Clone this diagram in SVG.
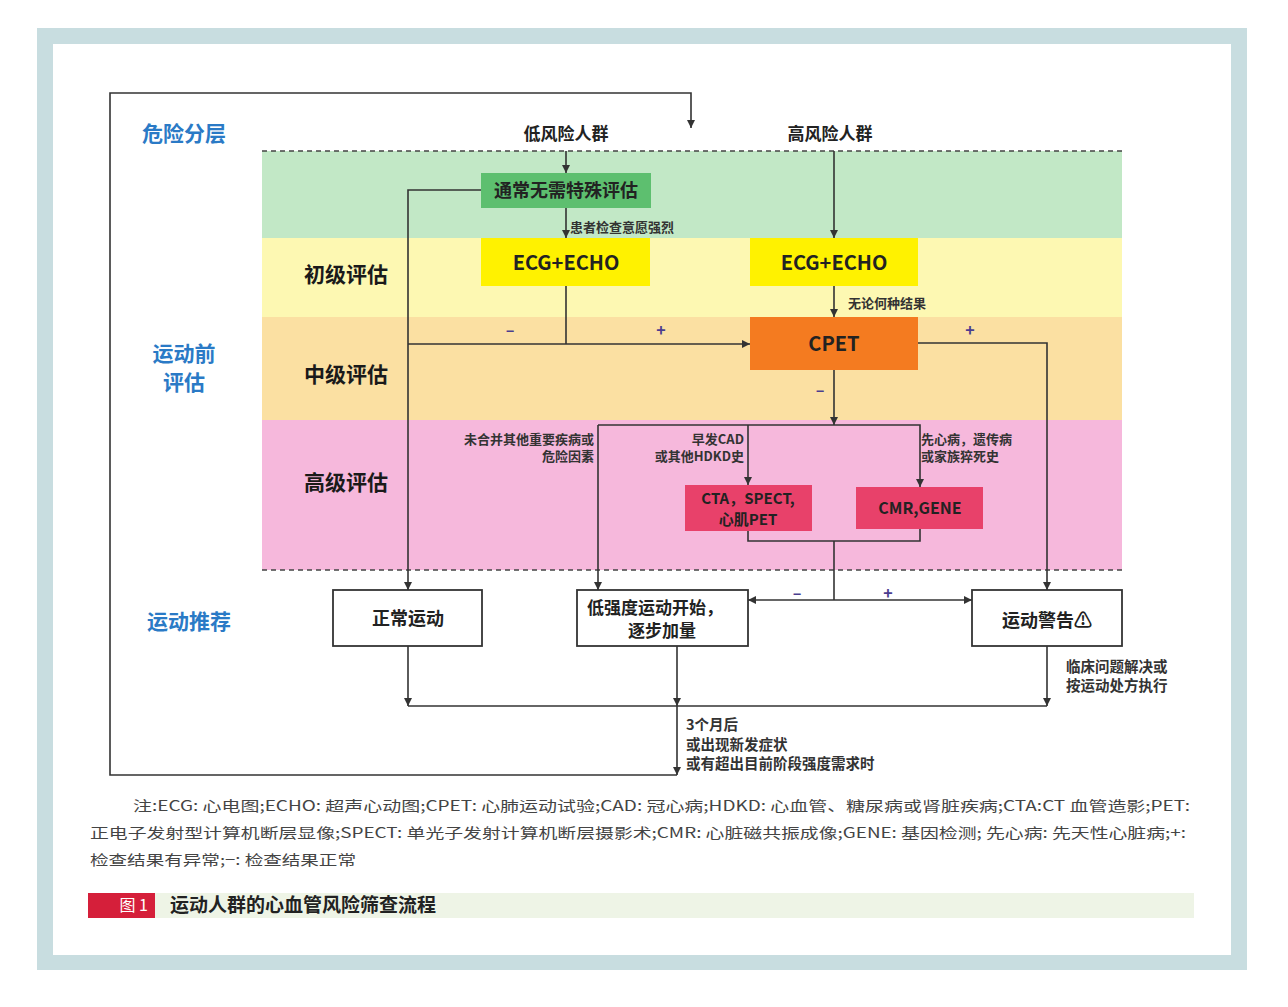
<svg xmlns="http://www.w3.org/2000/svg" width="1288" height="1007" viewBox="0 0 1288 1007">
<defs>
<style>
.band-title{font-family:"Noto Sans CJK SC",sans-serif;font-weight:bold;font-size:21px;fill:#2a7ac6;}
.lvl{font-family:"Noto Sans CJK SC",sans-serif;font-weight:bold;font-size:21px;fill:#1a1a1a;}
.pop{font-family:"Noto Sans CJK SC",sans-serif;font-weight:bold;font-size:17px;fill:#222;}
.node{font-family:"Noto Sans CJK SC",sans-serif;font-weight:bold;font-size:17px;fill:#222;}
.small{font-family:"Noto Sans CJK SC",sans-serif;font-weight:bold;font-size:13px;fill:#333;}
.mid{font-family:"Noto Sans CJK SC",sans-serif;font-weight:bold;font-size:14.5px;fill:#333;}
.sign{font-family:"Noto Sans CJK SC",sans-serif;font-weight:bold;font-size:16px;fill:#4b3d8f;}
.note{font-family:"Noto Sans CJK SC",sans-serif;font-size:14px;fill:#444;}
.line{fill:none;stroke:#333;stroke-width:1.6;}
.arr{fill:none;stroke:#333;stroke-width:1.6;marker-end:url(#ah);}
.dash{fill:none;stroke:#444;stroke-width:1.5;stroke-dasharray:5,4;}
.wbox{fill:#fff;stroke:#333;stroke-width:1.8;}
</style>
<marker id="ah" viewBox="0 0 10 10" refX="10" refY="5" markerUnits="userSpaceOnUse" markerWidth="8" markerHeight="10" orient="auto">
<path d="M0,0 L10,5 L0,10 z" fill="#333"/>
</marker>
</defs>

<!-- frame -->
<rect x="0" y="0" width="1288" height="1007" fill="#fff"/>
<rect x="37" y="28" width="1210" height="942" fill="#c8dde0"/>
<rect x="53" y="44" width="1178" height="911" fill="#fff"/>

<!-- bands -->
<g id="bands">
<rect x="262" y="151" width="860" height="87" fill="#c2e8c6"/>
<rect x="262" y="238" width="860" height="79" fill="#fdf8b2"/>
<rect x="262" y="317" width="860" height="103" fill="#fbe0a2"/>
<rect x="262" y="420" width="860" height="150" fill="#f6b8dc"/>
<line class="dash" x1="262" y1="151" x2="1122" y2="151"/>
<line class="dash" x1="262" y1="570" x2="1125" y2="570"/>
</g>

<!-- section labels -->
<g id="labels">
<text class="band-title" x="184" y="141" text-anchor="middle">危险分层</text>
<text class="band-title" x="184" y="361" text-anchor="middle">运动前</text>
<text class="band-title" x="184" y="390" text-anchor="middle">评估</text>
<text class="band-title" x="189" y="629" text-anchor="middle">运动推荐</text>
<text class="lvl" x="346" y="282" text-anchor="middle">初级评估</text>
<text class="lvl" x="346" y="382" text-anchor="middle">中级评估</text>
<text class="lvl" x="346" y="490" text-anchor="middle">高级评估</text>
<text class="pop" x="566" y="140" text-anchor="middle">低风险人群</text>
<text class="pop" x="830" y="140" text-anchor="middle">高风险人群</text>
</g>

<!-- connectors -->
<g id="connectors">
<path class="arr" d="M677,706 V775"/>
<path class="arr" d="M677,775 H110 V93 H691 V128"/>
<path class="arr" d="M566,151 V173"/>
<path class="arr" d="M566,208 V238"/>
<path class="arr" d="M834,151 V238"/>
<path class="arr" d="M834,286 V317"/>
<path class="line" d="M566,286 V344"/>
<path class="arr" d="M408,344 H750"/>
<path class="arr" d="M481,190 H408 V590"/>
<path class="arr" d="M918,343 H1047 V590"/>
<path class="arr" d="M834,370 V425"/>
<path class="arr" d="M598,425 V590"/>
<path class="arr" d="M748,425 V485"/>
<path class="arr" d="M598,425 H920 V487"/>
<path class="line" d="M748,531 V541 H920 V529"/>
<path class="line" d="M834,541 V600"/>
<path class="arr" d="M834,600 H748"/>
<path class="arr" d="M834,600 H972"/>
<path class="arr" d="M408,646 V706"/>
<path class="arr" d="M677,646 V706"/>
<path class="arr" d="M1047,646 V706"/>
<path class="line" d="M408,706 H1047"/>
<text class="small" x="570" y="232">患者检查意愿强烈</text>
<text class="small" x="848" y="308">无论何种结果</text>
<text class="sign" x="510" y="336" text-anchor="middle">–</text>
<text class="sign" x="661" y="336" text-anchor="middle">+</text>
<text class="sign" x="970" y="336" text-anchor="middle">+</text>
<text class="sign" x="820" y="396" text-anchor="middle">–</text>
<text class="small" x="594" y="444" text-anchor="end">未合并其他重要疾病或</text>
<text class="small" x="594" y="461" text-anchor="end">危险因素</text>
<text class="small" x="744" y="444" text-anchor="end">早发CAD</text>
<text class="small" x="744" y="461" text-anchor="end">或其他HDKD史</text>
<text class="small" x="921" y="444">先心病，遗传病</text>
<text class="small" x="921" y="461">或家族猝死史</text>
<text class="sign" x="797" y="599" text-anchor="middle">–</text>
<text class="sign" x="888" y="599" text-anchor="middle">+</text>
<text class="mid" x="1066" y="672">临床问题解决或</text>
<text class="mid" x="1066" y="691">按运动处方执行</text>
<text class="mid" x="686" y="730">3个月后</text>
<text class="mid" x="686" y="750">或出现新发症状</text>
<text class="mid" x="686" y="769">或有超出目前阶段强度需求时</text>
</g>

<!-- nodes -->
<g id="n-usual">
<rect x="481" y="173" width="170" height="35" fill="#5dbf6f"/>
<text class="node" x="566" y="197" text-anchor="middle" style="font-size:18px">通常无需特殊评估</text>
</g>
<g id="n-ecg-low">
<rect x="481" y="238" width="169" height="48" fill="#fff200"/>
<text class="node" x="566" y="270" text-anchor="middle" style="font-size:20px">ECG+ECHO</text>
</g>
<g id="n-ecg-high">
<rect x="750" y="238" width="168" height="48" fill="#fff200"/>
<text class="node" x="834" y="270" text-anchor="middle" style="font-size:20px">ECG+ECHO</text>
</g>
<g id="n-cpet">
<rect x="750" y="317" width="168" height="53" fill="#f47b20"/>
<text class="node" x="834" y="351" text-anchor="middle" style="font-size:20px">CPET</text>
</g>
<g id="n-cta">
<rect x="685" y="485" width="127" height="46" fill="#e8416a"/>
<text class="node" x="748" y="504" text-anchor="middle" style="font-size:15px">CTA，SPECT,</text>
<text class="node" x="748" y="525" text-anchor="middle" style="font-size:15px">心肌PET</text>
</g>
<g id="n-cmr">
<rect x="856" y="487" width="127" height="42" fill="#e8416a"/>
<text class="node" x="920" y="514" text-anchor="middle" style="font-size:16px">CMR,GENE</text>
</g>
<g id="n-normal">
<rect class="wbox" x="333" y="590" width="149" height="56"/>
<text class="node" x="408" y="625" text-anchor="middle" style="font-size:18px">正常运动</text>
</g>
<g id="n-low">
<rect class="wbox" x="577" y="590" width="171" height="56"/>
<text class="node" x="655" y="614" text-anchor="middle">低强度运动开始，</text>
<text class="node" x="662" y="637" text-anchor="middle">逐步加量</text>
</g>
<g id="n-warn">
<rect class="wbox" x="972" y="590" width="150" height="56"/>
<text class="node" x="1047" y="627" text-anchor="middle" style="font-size:18px">运动警告⚠</text>
</g>

<!-- footnote -->
<g id="note">
<text class="note" x="133" y="811" textLength="1057" lengthAdjust="spacingAndGlyphs">注:ECG: 心电图;ECHO: 超声心动图;CPET: 心肺运动试验;CAD: 冠心病;HDKD: 心血管、糖尿病或肾脏疾病;CTA:CT 血管造影;PET:</text>
<text class="note" x="90" y="838" textLength="1096" lengthAdjust="spacingAndGlyphs">正电子发射型计算机断层显像;SPECT: 单光子发射计算机断层摄影术;CMR: 心脏磁共振成像;GENE: 基因检测; 先心病: 先天性心脏病;+:</text>
<text class="note" x="90" y="865" textLength="266" lengthAdjust="spacingAndGlyphs">检查结果有异常;−: 检查结果正常</text>
</g>

<!-- caption -->
<g id="caption">
<rect x="155" y="893" width="1039" height="25" fill="#eef4e6"/>
<rect x="88" y="893" width="67" height="25" fill="#d51f3a"/>
<text x="148" y="911" text-anchor="end" font-family="Noto Sans CJK SC, sans-serif" font-size="16" fill="#fff">图 1</text>
<text x="170" y="912" font-family="Noto Sans CJK SC, sans-serif" font-size="19" font-weight="bold" fill="#222">运动人群的心血管风险筛查流程</text>
</g>
</svg>
